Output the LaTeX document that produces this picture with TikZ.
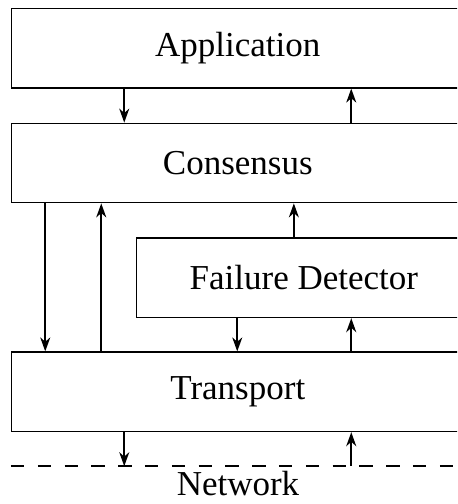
\documentclass[tikz,border=0pt]{standalone}
\usepackage{fontspec}
\setmainfont{Liberation Serif}
\usetikzlibrary{arrows.meta,positioning}
\tikzset{
  layer/.style={rectangle, draw, line width=0.8pt, align=center, font=\fontsize{17.5}{21}\selectfont, minimum height=39.6pt, minimum width=226.25pt, inner sep=0pt},
  fdlayer/.style={layer, minimum width=167.2pt},
  arr/.style={-{Stealth[length=7pt, width=5pt, inset=2.2pt]}, line width=0.8pt},
  netline/.style={line width=0.8pt, dash pattern=on 6.7pt off 6.7pt}
}
\begin{document}
\begin{tikzpicture}
\useasboundingbox (0,0) rectangle (228.5pt,-252pt);
\clip (0,0) rectangle (228.5pt,-252pt);

\node[layer] (app) at (118.9pt,-24.1pt) {Application};
\node[layer, below=17pt of app] (cons) {Consensus};
\node[fdlayer, below=17pt of cons.south east, anchor=north east, xshift=3.5pt] (fd) {Failure Detector};
\node[layer, below=74pt of cons] (trans) {Transport};

\coordinate[below=17pt of trans.south west] (netL);
\coordinate[right=240pt of netL] (netR);
\draw[netline] ([xshift=0.1pt]netL) -- (netR);
\node[font=\fontsize{17.5}{21}\selectfont, anchor=base] (net) at (119pt,-247.5pt) {Network};

\draw[arr] ([xshift=56.75pt]app.south west) -- ([xshift=56.75pt]cons.north west);
\draw[arr] ([xshift=170.25pt]cons.north west) -- ([xshift=170.25pt]app.south west);
\draw[arr] ([xshift=17.25pt]cons.south west) -- ([xshift=17.25pt]trans.north west);
\draw[arr] ([xshift=45.25pt]trans.north west) -- ([xshift=45.25pt]cons.south west);
\draw[arr] ([xshift=79pt]fd.north west) -- ([xshift=79pt]fd.north west |- cons.south);
\draw[arr] ([xshift=50.7pt]fd.south west) -- ([xshift=50.7pt]fd.south west |- trans.north);
\draw[arr] ([xshift=107.7pt]fd.south west |- trans.north) -- ([xshift=107.7pt]fd.south west);
\draw[arr] ([xshift=56.75pt]trans.south west) -- ([xshift=56.75pt]trans.south west |- netL);
\draw[arr] ([xshift=170.25pt]trans.south west |- netL) -- ([xshift=170.25pt]trans.south west);
\end{tikzpicture}
\end{document}
